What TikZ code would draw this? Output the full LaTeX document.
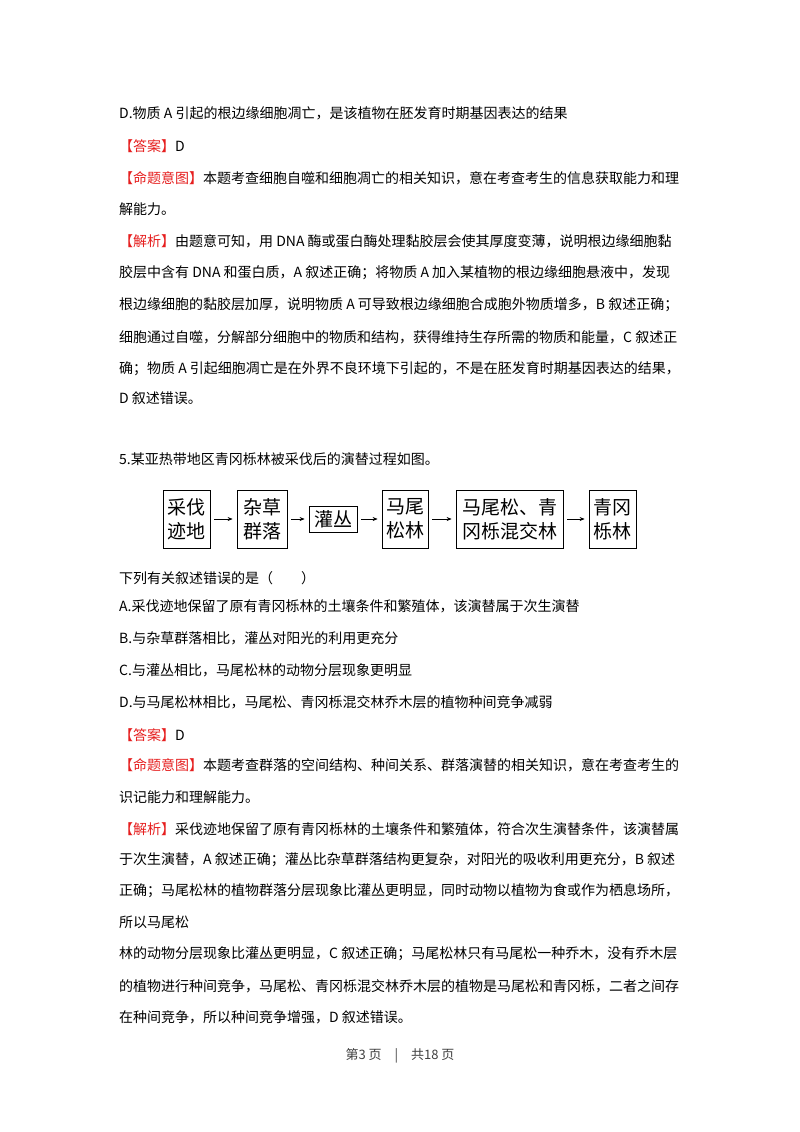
\documentclass[tikz,border=0pt]{standalone}
\usepackage{fontspec}
\setmainfont{Noto Sans CJK SC}
\usetikzlibrary{arrows.meta}
\definecolor{ared}{RGB}{230,30,30}
\newcommand{\rb}[1]{\textcolor{ared}{【#1】}}
\tikzset{ln/.style={anchor=west,inner sep=0pt,font=\fontsize{14pt}{16pt}\selectfont},
 bx/.style={draw,line width=0.8pt,inner sep=0pt,font=\fontsize{19pt}{24pt}\selectfont,align=center},
 ar/.style={-{Stealth[length=5pt,width=4pt]},line width=0.6pt}}
\begin{document}
\begin{tikzpicture}[x=1pt,y=-1pt]
\useasboundingbox[fill=white] (0,0) rectangle (800,1132);
\node[ln] (l1) at (119,113) {D.物质 A 引起的根边缘细胞凋亡，是该植物在胚发育时期基因表达的结果};
\node[ln] (l2) at (119,146) {\rb{答案}D};
\node[ln] (l3) at (119,178) {\rb{命题意图}本题考查细胞自噬和细胞凋亡的相关知识，意在考查考生的信息获取能力和理};
\node[ln] (l4) at (119,209) {解能力。};
\node[ln] (l5) at (119,241) {\rb{解析}由题意可知，用 DNA 酶或蛋白酶处理黏胶层会使其厚度变薄，说明根边缘细胞黏};
\node[ln] (l6) at (119,273) {胶层中含有 DNA 和蛋白质，A 叙述正确；将物质 A 加入某植物的根边缘细胞悬液中，发现};
\node[ln] (l7) at (119,305) {根边缘细胞的黏胶层加厚，说明物质 A 可导致根边缘细胞合成胞外物质增多，B 叙述正确；};
\node[ln] (l8) at (119,337) {细胞通过自噬，分解部分细胞中的物质和结构，获得维持生存所需的物质和能量，C 叙述正};
\node[ln] (l9) at (119,369) {确；物质 A 引起细胞凋亡是在外界不良环境下引起的，不是在胚发育时期基因表达的结果，};
\node[ln] (l10) at (119,398) {D 叙述错误。};
\node[ln] (q5) at (119,459) {5.某亚热带地区青冈栎林被采伐后的演替过程如图。};
% diagram
\node[bx,minimum width=47pt,minimum height=58pt] (b1) at (186.5,519) {采伐\\迹地};
\node[bx,minimum width=50pt,minimum height=58pt] (b2) at (262,519) {杂草\\群落};
\node[bx,minimum width=48pt,minimum height=26pt] (b3) at (333,519) {灌丛};
\node[bx,minimum width=46pt,minimum height=58pt] (b4) at (405,519) {马尾\\松林};
\node[bx,minimum width=107pt,minimum height=58pt] (b5) at (509.5,519) {马尾松、青\\冈栎混交林};
\node[bx,minimum width=47pt,minimum height=58pt] (b6) at (612.5,519) {青冈\\栎林};
\draw[ar] ([xshift=4pt]b1.east) -- ([xshift=-4pt]b2.west);
\draw[ar] ([xshift=4pt]b2.east) -- ([xshift=-4pt]b3.west);
\draw[ar] ([xshift=4pt]b3.east) -- ([xshift=-4pt]b4.west);
\draw[ar] ([xshift=4pt]b4.east) -- ([xshift=-4pt]b5.west);
\draw[ar] ([xshift=4pt]b5.east) -- ([xshift=-4pt]b6.west);
\node[ln] (q) at (119,578) {下列有关叙述错误的是（\quad{}\quad{}）};
\node[ln] (oa) at (119,606) {A.采伐迹地保留了原有青冈栎林的土壤条件和繁殖体，该演替属于次生演替};
\node[ln] (ob) at (119,638) {B.与杂草群落相比，灌丛对阳光的利用更充分};
\node[ln] (oc) at (119,670) {C.与灌丛相比，马尾松林的动物分层现象更明显};
\node[ln] (od) at (119,702) {D.与马尾松林相比，马尾松、青冈栎混交林乔木层的植物种间竞争减弱};
\node[ln] (m1) at (119,735) {\rb{答案}D};
\node[ln] (m2) at (119,765) {\rb{命题意图}本题考查群落的空间结构、种间关系、群落演替的相关知识，意在考查考生的};
\node[ln] (m3) at (119,797) {识记能力和理解能力。};
\node[ln] (m4) at (119,829) {\rb{解析}采伐迹地保留了原有青冈栎林的土壤条件和繁殖体，符合次生演替条件，该演替属};
\node[ln] (m5) at (119,860) {于次生演替，A 叙述正确；灌丛比杂草群落结构更复杂，对阳光的吸收利用更充分，B 叙述};
\node[ln] (m6) at (119,891) {正确；马尾松林的植物群落分层现象比灌丛更明显，同时动物以植物为食或作为栖息场所，};
\node[ln] (m7) at (119,922) {所以马尾松};
\node[ln] (m8) at (119,954) {林的动物分层现象比灌丛更明显，C 叙述正确；马尾松林只有马尾松一种乔木，没有乔木层};
\node[ln] (m9) at (119,986) {的植物进行种间竞争，马尾松、青冈栎混交林乔木层的植物是马尾松和青冈栎，二者之间存};
\node[ln] (m10) at (119,1017) {在种间竞争，所以种间竞争增强，D 叙述错误。};
\node[inner sep=0pt,font=\fontsize{13pt}{15pt}\selectfont,text=black!75] (ft) at (400,1056) {第3 页\quad{}|\quad{}共18 页};
\end{tikzpicture}
\end{document}
